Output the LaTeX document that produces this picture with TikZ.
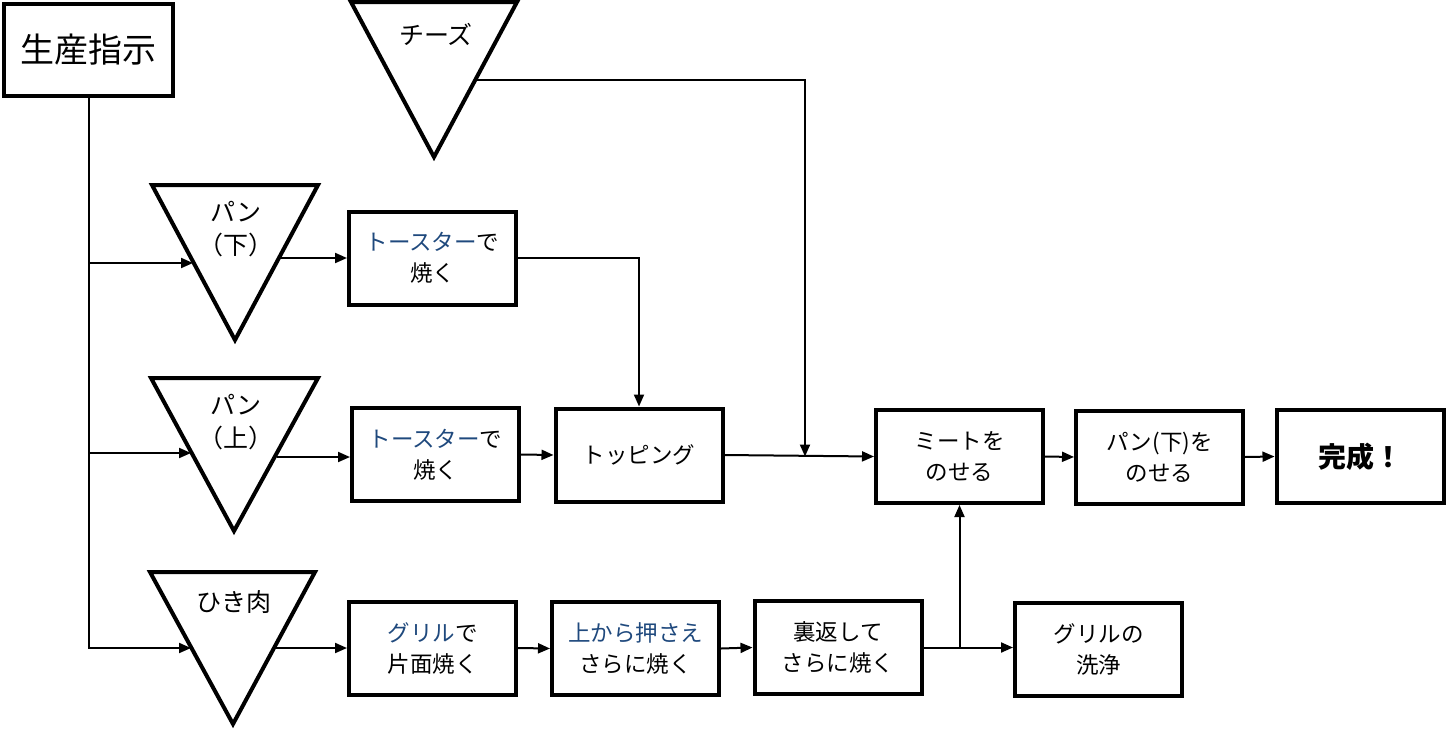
\documentclass[tikz,border=0pt]{standalone}
\usepackage{fontspec}
\setmainfont{Noto Sans CJK JP}
\usetikzlibrary{arrows.meta}
\definecolor{tblue}{HTML}{1F497D}
\begin{document}
\begin{tikzpicture}[x=1pt,y=-1pt,
  box/.style={draw,line width=4pt,inner sep=0pt,align=center,minimum width=167pt,minimum height=93pt,font=\fontsize{22.5}{31}\selectfont},
  tri/.style={draw,line width=4pt,line join=miter},
  lbl/.style={align=center,inner sep=0pt,font=\fontsize{25}{33}\selectfont},
  conn/.style={line width=2pt},
  arr/.style={conn,-{Triangle[length=12pt,width=10pt]}}]
\useasboundingbox (0,0) rectangle (1447,728);

% boxes
\node[box,minimum width=169pt,minimum height=92pt,font=\fontsize{34}{38}\selectfont] (order) at (88.5,50) {生産指示};
\node[box] (t1) at (432.5,258) {\textcolor{tblue}{トースター}で\\焼く};
\node[box] (t2) at (435.5,454.5) {\textcolor{tblue}{トースター}で\\焼く};
\node[box] (top) at (639,455) {トッピング};
\node[box] (meat) at (959.5,456.5) {ミートを\\のせる};
\node[box] (pan) at (1159.5,457) {パン(下)を\\のせる};
\node[box,font=\fontsize{28}{32}\selectfont\bfseries] (done) at (1360,456.5) {完成！};
\node[box] (grill) at (432.5,648) {\textcolor{tblue}{グリル}で\\片面焼く};
\node[box] (press) at (635.5,648.5) {\textcolor{tblue}{上から押さえ}\\さらに焼く};
\node[box] (flip) at (838,647.5) {裏返して\\さらに焼く};
\node[box] (wash) at (1098.5,649) {グリルの\\洗浄};

% triangles
\draw[tri] (351,2) -- (517,2) -- (434,157) -- cycle;
\draw[tri] (152,185) -- (318,185) -- (235,340) -- cycle;
\draw[tri] (151,378) -- (318,378) -- (234,531) -- cycle;
\draw[tri] (150,572) -- (315,572) -- (233,724) -- cycle;

\node[lbl] (cheese) at (436,34) {チーズ};
\node[lbl] (pdl) at (236,229) {パン\\（下）};
\node[lbl] (pul) at (236,422) {パン\\（上）};
\node[lbl] (hkl) at (234,602) {ひき肉};

% edge points of triangles
\coordinate (chR) at (475,80);
\coordinate (pdL) at (193,263);
\coordinate (pdR) at (279,258);
\coordinate (puL) at (191,453);
\coordinate (puR) at (277,457);
\coordinate (hkL) at (191,648);
\coordinate (hkR) at (275,648);
\coordinate (cj) at (805,456.5);

% connectors
\draw[arr] (order.south) |- (hkL);
\draw[arr] (order.south |- pdL) -- (pdL);
\draw[arr] (order.south |- puL) -- (puL);
\draw[arr] (pdR) -- (t1.west |- pdR);
\draw[arr] (t1.east) -| (top.north);
\draw[arr] (puR) -- (t2.west |- puR);
\draw[arr] (t2.east) -- (top.west);
\draw[arr] (top.east) -- (meat.west);
\draw[arr] (chR) -| (cj);
\draw[arr] (meat.east) -- (pan.west);
\draw[arr] (pan.east) -- (done.west);
\draw[arr] (hkR) -- (grill.west |- hkR);
\draw[arr] (grill.east) -- (press.west);
\draw[arr] (press.east) -- (flip.west);
\draw[arr] (flip.east) -- (wash.west |- flip.east);
\draw[arr] (flip.east -| meat.south) -- (meat.south);
\end{tikzpicture}
\end{document}
